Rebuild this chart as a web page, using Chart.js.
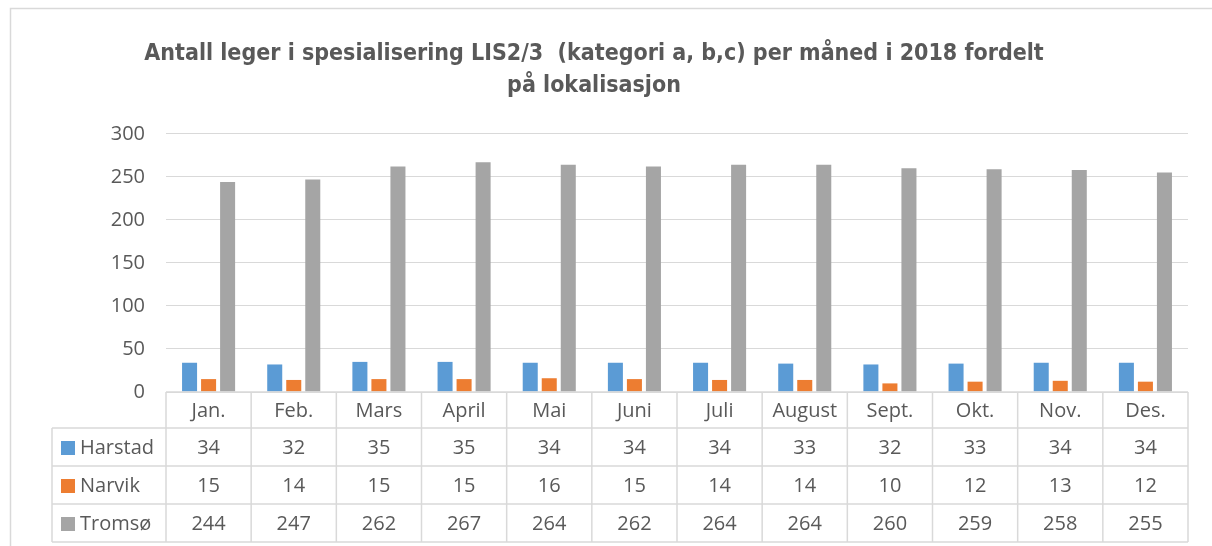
<!DOCTYPE html>
<html>

<head>
    <meta charset="utf-8">
    <script src="https://cdn.jsdelivr.net/npm/chart.js"></script>
    <style>
        html, body { margin: 0; padding: 0; background: #fff; }
        #wrap { width: 1212px; height: 546px; }
    </style>
</head>

<body>
    <div id="wrap">
        <canvas id="myChart" width="1212" height="546"></canvas>
    </div>
    <script>
        // data
        const months = ['Jan.', 'Feb.', 'Mars', 'April', 'Mai', 'Juni', 'Juli', 'August', 'Sept.', 'Okt.', 'Nov.', 'Des.'];
        const harstad = [34, 32, 35, 35, 34, 34, 34, 33, 32, 33, 34, 34];
        const narvik = [15, 14, 15, 15, 16, 15, 14, 14, 10, 12, 13, 12];
        const tromso = [244, 247, 262, 267, 264, 262, 264, 264, 260, 259, 258, 255];
        const yTicks = [0, 50, 100, 150, 200, 250, 300];

        const seriesNames = ['Harstad', 'Narvik', 'Tromsø'];
        const seriesColors = ['#5B9BD5', '#ED7D31', '#A5A5A5'];
        const seriesData = [harstad, narvik, tromso];

        const textColor = '#595959';
        const lineColor = '#D9D9D9';
        const fontFamily = "'Open Sans', 'Noto Sans', sans-serif";

        Chart.defaults.font.family = fontFamily;
        Chart.defaults.color = textColor;

        // outer frame + data table below the plot
        const tablePlugin = {
            id: 'dataTable',
            beforeDraw(chart) {
                const ctx = chart.ctx;
                ctx.save();
                ctx.strokeStyle = lineColor;
                ctx.lineWidth = 1.5;
                ctx.beginPath();
                ctx.moveTo(10.5, 546);
                ctx.lineTo(10.5, 8.5);
                ctx.lineTo(1212, 8.5);
                ctx.stroke();
                ctx.restore();
            },
            afterDraw(chart) {
                const ctx = chart.ctx;
                const area = chart.chartArea;
                const x = chart.scales.x;
                const cellW = (area.right - area.left) / months.length;
                const headH = 36;
                const rowH = 38;
                const top = area.bottom;
                const legendLeft = 52;
                const bottom = top + headH + rowH * seriesNames.length;

                ctx.save();
                ctx.strokeStyle = lineColor;
                ctx.lineWidth = 1.5;
                ctx.beginPath();
                // horizontal lines
                ctx.moveTo(area.left, top);
                ctx.lineTo(area.right, top);
                for (let r = 0; r <= seriesNames.length; r++) {
                    const y = top + headH + r * rowH;
                    ctx.moveTo(legendLeft, y);
                    ctx.lineTo(area.right, y);
                }
                // vertical lines
                ctx.moveTo(legendLeft, top + headH);
                ctx.lineTo(legendLeft, bottom);
                for (let i = 0; i <= months.length; i++) {
                    const vx = area.left + i * cellW;
                    ctx.moveTo(vx, top);
                    ctx.lineTo(vx, bottom);
                }
                ctx.stroke();

                ctx.fillStyle = textColor;
                ctx.font = '20px ' + fontFamily;
                ctx.textAlign = 'center';
                ctx.textBaseline = 'middle';
                months.forEach((m, i) => {
                    ctx.fillText(m, x.getPixelForValue(i), top + headH / 2 + 1);
                });
                seriesData.forEach((vals, r) => {
                    const cy = top + headH + r * rowH + rowH / 2 + 1;
                    ctx.textAlign = 'center';
                    vals.forEach((v, i) => {
                        ctx.fillText(String(v), x.getPixelForValue(i), cy);
                    });
                    ctx.fillStyle = seriesColors[r];
                    ctx.fillRect(legendLeft + 9, cy - 7, 14, 14);
                    ctx.fillStyle = textColor;
                    ctx.textAlign = 'left';
                    ctx.fillText(seriesNames[r], legendLeft + 28, cy);
                });
                ctx.restore();
            }
        };

        const data = {
            labels: months,
            datasets: seriesNames.map((name, i) => ({
                label: name,
                data: seriesData[i],
                backgroundColor: seriesColors[i],
                barPercentage: 0.79,
                categoryPercentage: 0.67
            }))
        };

        const config = {
            type: 'bar',
            data: data,
            options: {
                responsive: false,
                animation: false,
                layout: {
                    padding: { left: 0, right: 24, top: 0, bottom: 154 }
                },
                plugins: {
                    legend: { display: false },
                    tooltip: { enabled: false },
                    title: {
                        display: true,
                        text: ['Antall leger i spesialisering LIS2/3  (kategori a, b,c) per måned i 2018 fordelt', 'på lokalisasjon'],
                        color: textColor,
                        font: { family: "'DejaVu Sans Condensed', 'Roboto', sans-serif", size: 23, weight: 'bold', lineHeight: 1.4 },
                        padding: { top: 38, bottom: 31.5 }
                    }
                },
                scales: {
                    x: {
                        display: false
                    },
                    y: {
                        min: 0,
                        max: 300,
                        afterBuildTicks(scale) {
                            scale.ticks = yTicks.map(v => ({ value: v }));
                        },
                        afterFit(scale) {
                            scale.width = 166;
                        },
                        border: { display: false },
                        grid: { color: lineColor, drawTicks: false, lineWidth: 1 },
                        ticks: { padding: 21, color: textColor, font: { size: 20 } }
                    }
                }
            },
            plugins: [tablePlugin]
        };

        const myChart = new Chart(document.getElementById('myChart'), config);
    </script>
</body>

</html>
